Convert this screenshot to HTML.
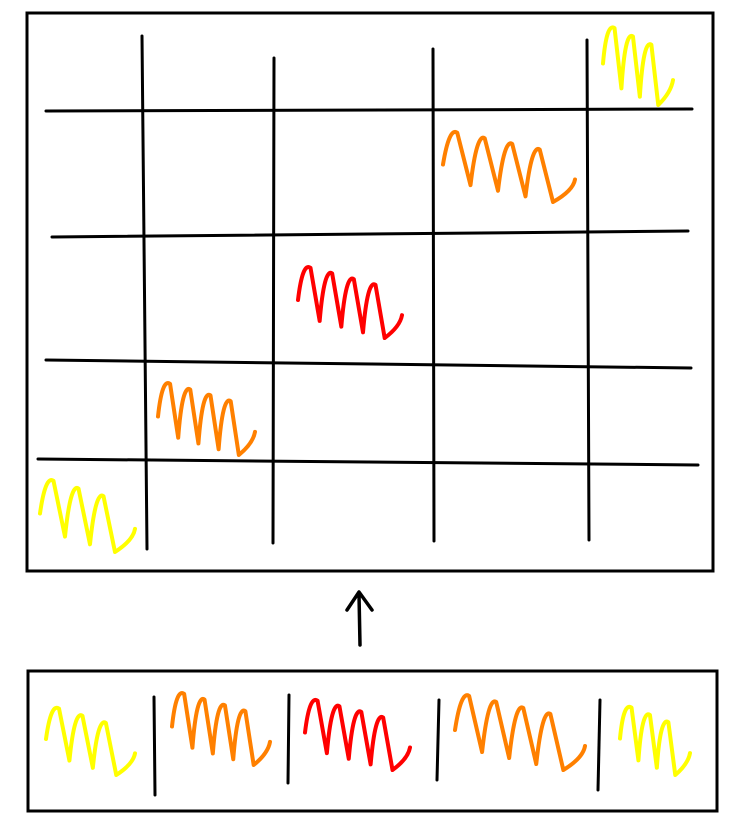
<!DOCTYPE html>
<html><head><meta charset="utf-8"><style>
html,body{margin:0;padding:0;background:#fff;width:732px;height:827px;overflow:hidden}
svg{display:block}
</style></head><body>
<svg id="s" width="732" height="827" viewBox="0 0 732 827">
  <rect x="27" y="13" width="686" height="558" fill="none" stroke="#000" stroke-width="3"/>
  <g stroke="#000" stroke-width="3" stroke-linecap="round" fill="none">
    <line x1="46" y1="111" x2="692" y2="109"/>
    <line x1="52" y1="237" x2="688" y2="231"/>
    <line x1="46" y1="360" x2="691" y2="368"/>
    <line x1="38" y1="459" x2="698" y2="465"/>
    <line x1="142" y1="36" x2="147" y2="549"/>
    <line x1="274" y1="58" x2="273" y2="543"/>
    <line x1="433" y1="49" x2="434" y2="541"/>
    <line x1="587" y1="40" x2="589" y2="540"/>
  </g>
  <path d="M360 645 L359 594 M347 610 L359 592 L372 610" stroke="#000" stroke-width="3.5" fill="none" stroke-linecap="round" stroke-linejoin="round"/>
  <rect x="28" y="671" width="689" height="140" fill="none" stroke="#000" stroke-width="3"/>
  <g stroke="#000" stroke-width="3" stroke-linecap="round">
    <line x1="154" y1="697" x2="155" y2="795"/>
    <line x1="289" y1="695" x2="288" y2="783"/>
    <line x1="439" y1="700" x2="437" y2="780"/>
    <line x1="600" y1="700" x2="598" y2="790"/>
  </g>
  <g id="scribbles"></g>
</svg>
<script>
const colors = ['#ffff00','#ff8000','#ff0000','#ff8000','#ffff00'];
const loops = [3,4,4,4,3];
const gridBoxes = [[603,22,673,105],[443,127,575,202],[298,262,402,338],[158,378,255,455],[40,475,135,552]];
const stripBoxes = [[46,703,135,775],[172,688,270,765],[305,695,410,770],[455,690,585,770],[620,702,690,775]];
const g = document.getElementById('scribbles');
function scribble(b, n){
  const [x0,y0,x1,y1]=b, w=x1-x0, h=y1-y0;
  const step = w/(n+0.8);
  let d='M'+x0+' '+(y0+h*0.5);
  for(let i=0;i<n;i++){
    const tx=x0+step*(i+0.3), ty=y0+h*(0.05+0.3*i/n);
    const bx=x0+step*(i+1.0), by=y1-h*(0.3*(n-1-i)/n);
    d+=' Q'+(tx-2)+' '+(ty-4)+' '+(tx+6)+' '+(ty+2);
    d+=' L'+bx+' '+by;
  }
  d+=' Q'+(x1-2)+' '+(y1-h*0.15)+' '+x1+' '+(y1-h*0.3);
  return d;
}
function add(boxes, prefix){
  boxes.forEach((b,i)=>{
    const p=document.createElementNS('http://www.w3.org/2000/svg','path');
    p.setAttribute('d',scribble(b,loops[i]));
    p.setAttribute('fill','none');
    p.setAttribute('stroke',colors[i]);
    p.setAttribute('stroke-width','4');
    p.setAttribute('stroke-linecap','round');
    p.setAttribute('stroke-linejoin','round');
    
    
    g.appendChild(p);
  });
}
add(gridBoxes,'grid');
add(stripBoxes,'strip');
</script>
</body></html>
